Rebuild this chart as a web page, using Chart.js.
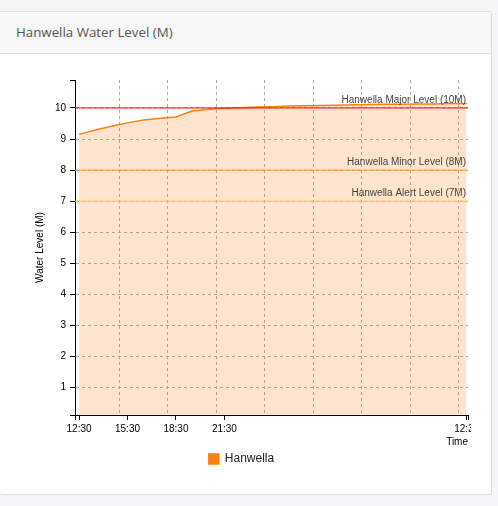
<!DOCTYPE html>
<html>
<head>
<meta charset="utf-8">
<title>Hanwella Water Level (M)</title>
<script src="https://cdn.jsdelivr.net/npm/chart.js@4.4.1/dist/chart.umd.min.js"></script>
<style>
  html, body { margin: 0; padding: 0; width: 498px; height: 506px; overflow: hidden; background: #f5f5f8; }
  .card {
    position: absolute; left: -1px; top: 11px; width: 493px; height: 484px;
    background: #fff; border: 1px solid #dcdcdc; border-radius: 3px; box-sizing: border-box;
  }
  .card-header {
    height: 42px; background: #f7f7f7; border-bottom: 1px solid #e2e2e2; box-sizing: border-box;
    padding-left: 16px; font: 13.3px "Open Sans", sans-serif; line-height: 41px; color: #555;
  }
  .chart-clip { position: absolute; left: 0; top: 54px; width: 471px; height: 440px; overflow: hidden; }
  .chart-box { position: relative; width: 483px; height: 440px; }
</style>
</head>
<body>
<div class="card">
  <div class="card-header">Hanwella Water Level (M)</div>
</div>
<div class="chart-clip">
  <div class="chart-box"><canvas id="chart-level"></canvas></div>
</div>
<script>
// 時刻（12:30 起点、翌日は 24 を足した時間）と水位
const hours = [12.5, 13.5, 14.5, 15.5, 16.5, 17.5, 18.5, 19.5, 20.5, 21.5, 22.5, 23.5,
               24.5, 25.5, 26.5, 27.5, 28.5, 29.5, 30.5, 31.5, 32.5, 33.5, 34.5, 35.5, 36.5];
const levels = [9.15, 9.29, 9.41, 9.52, 9.61, 9.67, 9.71, 9.90, 9.96, 9.99, 10.01, 10.03,
                10.04, 10.06, 10.07, 10.08, 10.09, 10.10, 10.11, 10.12, 10.12, 10.13, 10.13, 10.14, 10.14];

// 警戒水位
const refLevels = [10, 8, 7];
const refNames = ["Hanwella Major Level (10M)", "Hanwella Minor Level (8M)", "Hanwella Alert Level (7M)"];
const refColors = ["#ff0000", "#ffa500", "#ffd700"];

// 軸
const xTickHours = [12.5, 15.5, 18.5, 21.5, 36.5];
const xTickLabels = ["12:30", "15:30", "18:30", "21:30", "12:30"];
const xGridHours = [15, 18, 21, 24, 27, 30, 33, 36];
const yTickValues = [1, 2, 3, 4, 5, 6, 7, 8, 9, 10];

const xMin = 12.25, xMax = 36.58;
const yMin = 0.12, yMax = 10.9;

Chart.defaults.font.family = '"Liberation Sans", Arial, sans-serif';
Chart.defaults.font.size = 10;

const refLabelPlugin = {
  id: "refLabels",
  afterDatasetsDraw(chart) {
    const { ctx, chartArea, scales } = chart;
    ctx.save();
    ctx.font = '10px "Liberation Sans", Arial, sans-serif';
    ctx.fillStyle = "#444";
    ctx.textAlign = "right";
    ctx.textBaseline = "bottom";
    refLevels.forEach((v, i) => {
      ctx.fillText(refNames[i], chartArea.right - 2, scales.y.getPixelForValue(v) - 3);
    });
    ctx.restore();
  },
};

new Chart(document.getElementById("chart-level"), {
  type: "line",
  data: {
    datasets: [
      {
        label: "Hanwella",
        data: hours.map((h, i) => ({ x: h, y: levels[i] })),
        borderColor: "#ff7f0e",
        backgroundColor: "#ff7f0e",
        fill: { target: "start", above: "rgba(255,127,14,0.2)" },
        borderWidth: 1.5,
        pointRadius: 0,
        tension: 0,
        order: 2,
      },
      ...refLevels.map((v, i) => ({
        label: refNames[i],
        data: [{ x: xMin, y: v }, { x: xMax, y: v }],
        borderColor: refColors[i],
        borderWidth: 1,
        pointRadius: 0,
        fill: false,
        order: 1,
      })),
    ],
  },
  options: {
    responsive: true,
    maintainAspectRatio: false,
    animation: false,
    events: [],
    layout: { padding: { top: 26, bottom: 19, left: 0, right: 0 } },
    plugins: {
      tooltip: { enabled: false },
      legend: {
        position: "bottom",
        labels: {
          boxWidth: 10,
          boxHeight: 10,
          padding: 5,
          color: "#222",
          font: { size: 12 },
          filter: item => item.datasetIndex === 0,
        },
      },
    },
    scales: {
      x: {
        type: "linear",
        min: xMin,
        max: xMax,
        afterBuildTicks: s => {
          s.ticks = [xMin, ...xTickHours, ...xGridHours, xMax].sort((a, b) => a - b).map(v => ({ value: v }));
        },
        afterFit: s => { s.height = 33; s.paddingLeft = 0; s.paddingRight = 15; },
        ticks: {
          autoSkip: false,
          maxRotation: 0,
          minRotation: 0,
          padding: 3,
          color: "#000",
          callback: v => {
            const i = xTickHours.indexOf(v);
            return i >= 0 ? xTickLabels[i] : "";
          },
        },
        grid: {
          color: c => (c.tick && xGridHours.includes(c.tick.value)) ? "#aaa" : "transparent",
          tickColor: c => (c.tick && xGridHours.includes(c.tick.value)) ? "transparent" : "#000",
          tickLength: 5,
          tickBorderDash: [],
        },
        border: { display: true, color: "#000", width: 1, dash: [3, 3] },
        title: { display: true, text: "Time", align: "end", color: "#000", padding: { top: 0, bottom: 0 } },
      },
      y: {
        min: yMin,
        max: yMax,
        afterBuildTicks: s => {
          s.ticks = [yMin, ...yTickValues, yMax].map(v => ({ value: v }));
        },
        afterFit: s => { s.width = 75; s.paddingTop = 0; s.paddingBottom = 0; },
        ticks: {
          autoSkip: false,
          padding: 4,
          color: "#000",
          callback: v => yTickValues.includes(v) ? String(v) : "",
        },
        grid: {
          color: c => (c.tick && yTickValues.includes(c.tick.value)) ? "#aaa" : "transparent",
          tickColor: "#000",
          tickLength: 5,
          tickBorderDash: [],
        },
        border: { display: true, color: "#000", width: 1, dash: [3, 3] },
        title: { display: true, text: "Water Level (M)", color: "#000", padding: { top: 34, bottom: 0 } },
      },
    },
  },
  plugins: [refLabelPlugin],
});
</script>
</body>
</html>
